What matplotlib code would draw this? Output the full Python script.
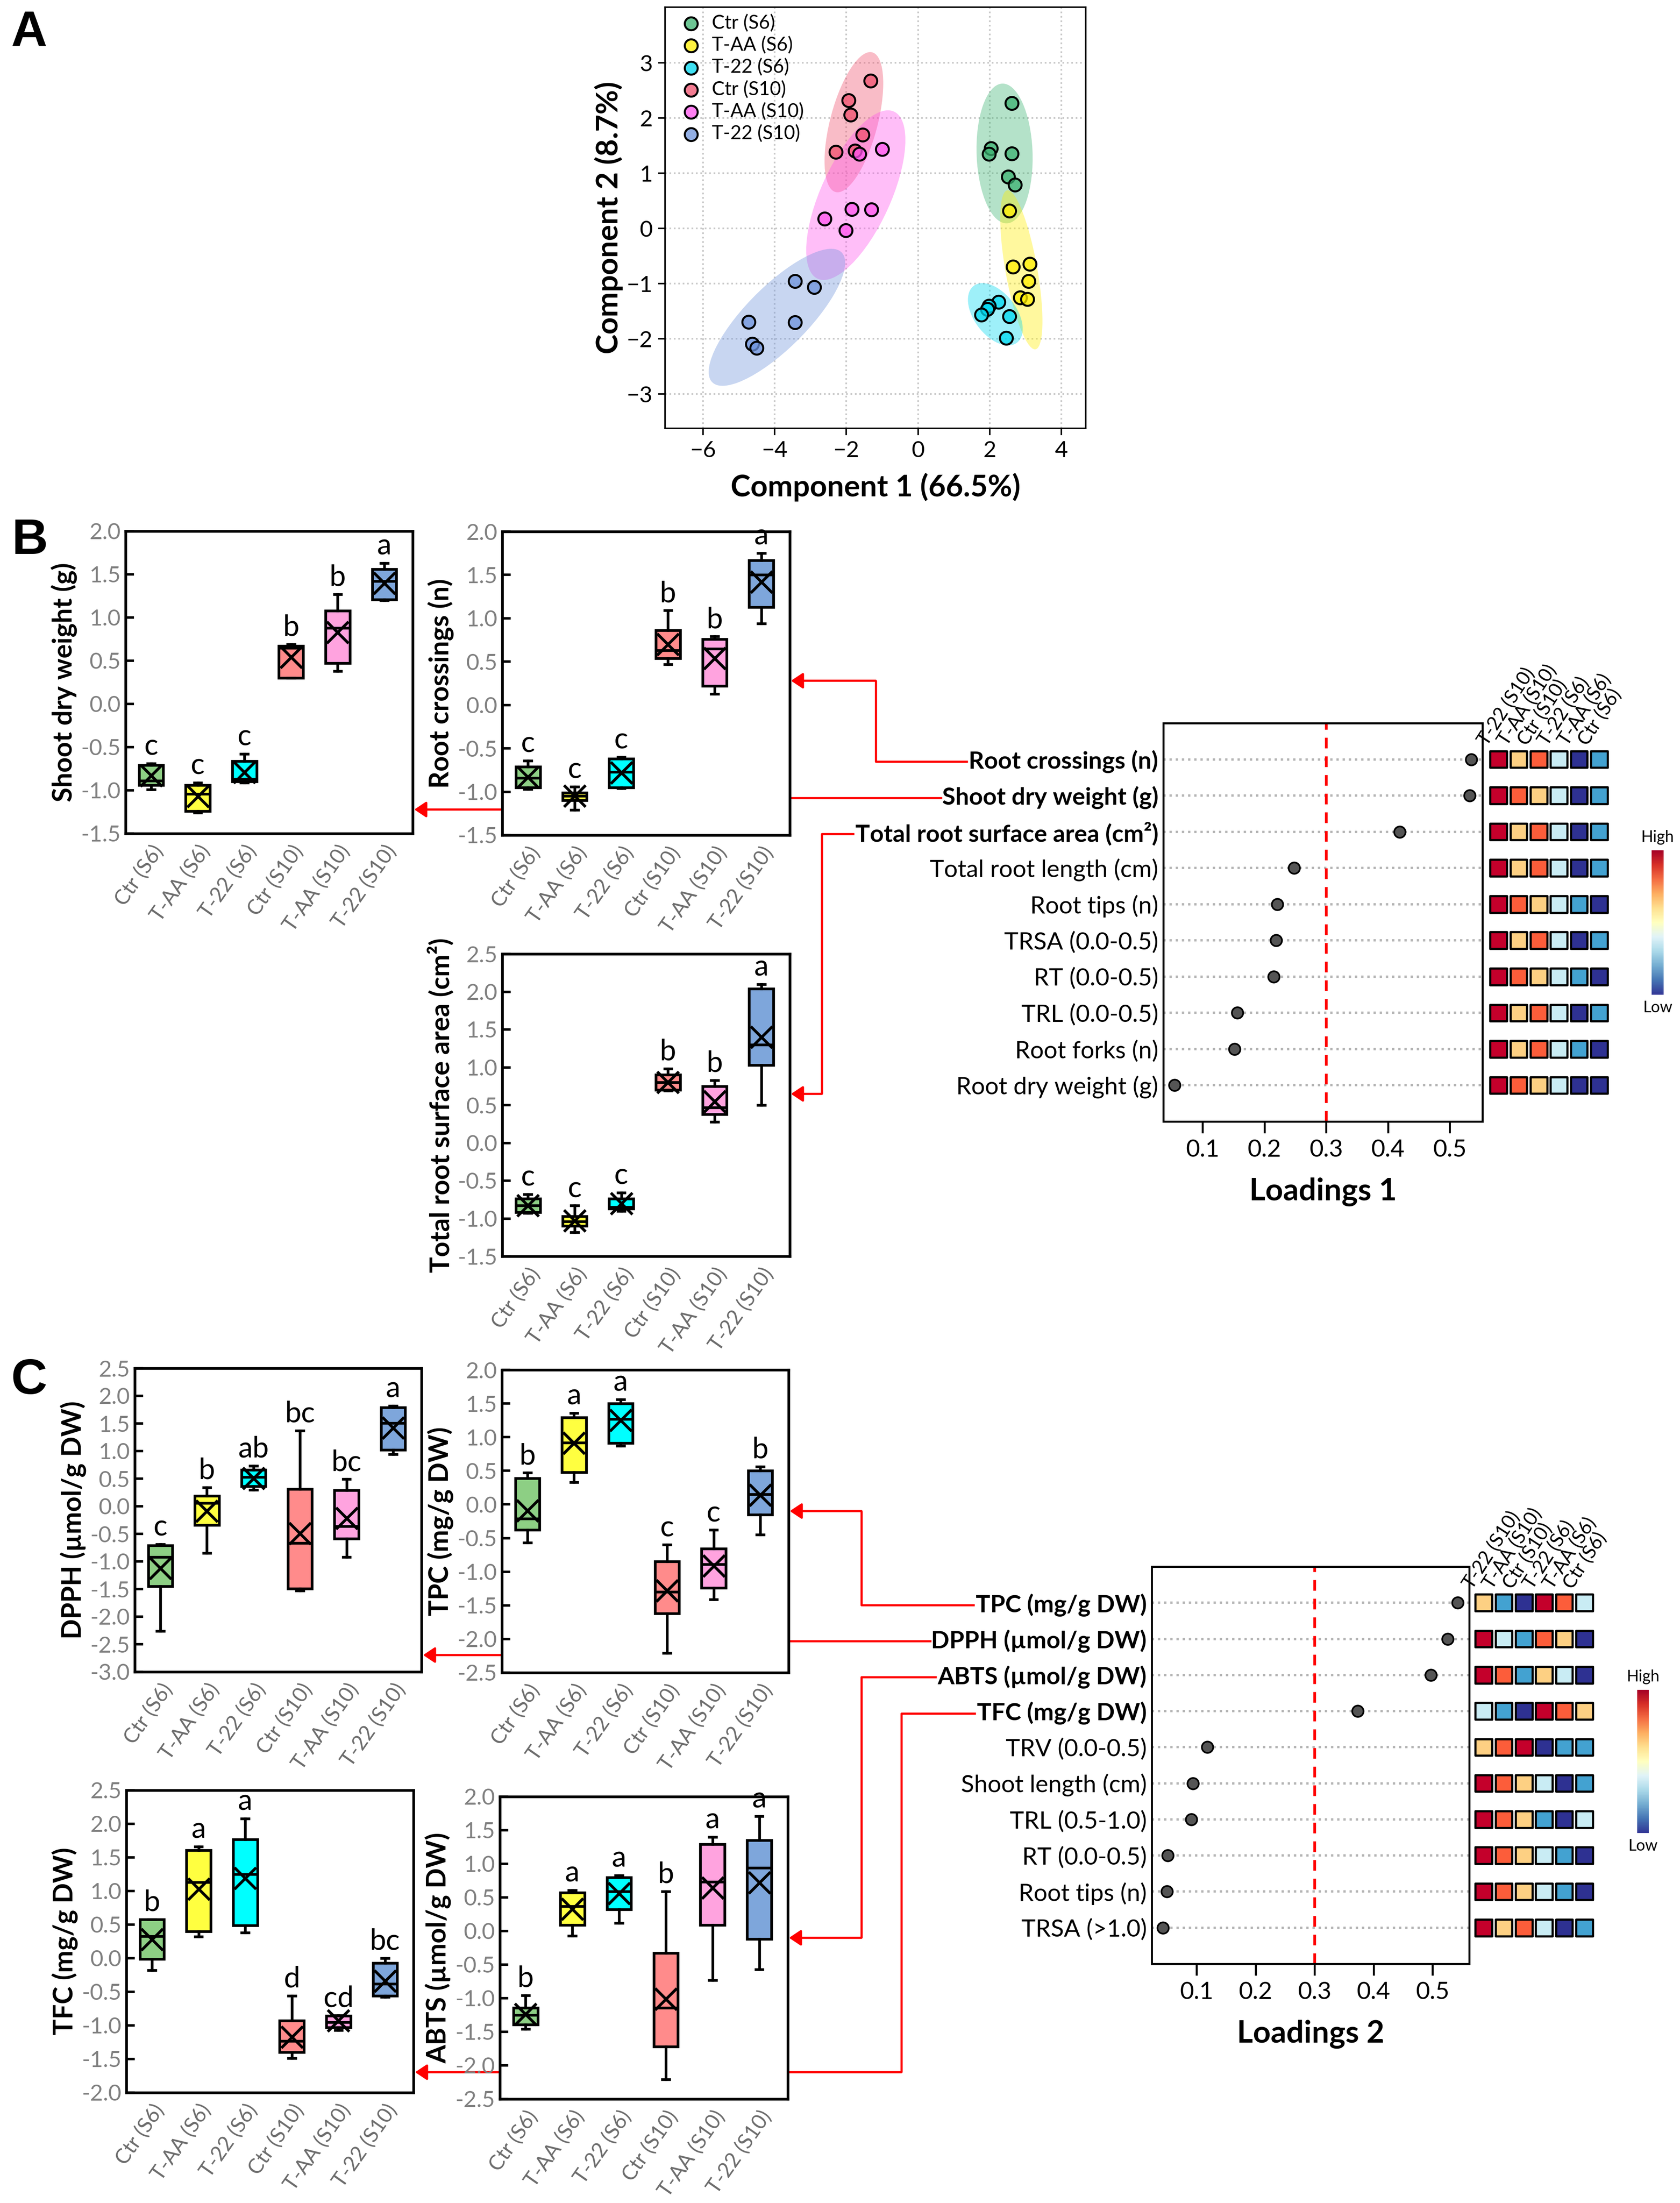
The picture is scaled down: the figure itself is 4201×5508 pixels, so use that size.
import numpy as np
import matplotlib
matplotlib.use("Agg")
import matplotlib.pyplot as plt
from matplotlib.patches import Ellipse
from matplotlib.colors import ListedColormap, to_rgba
from matplotlib.cm import ScalarMappable
from matplotlib.ticker import FormatStrFormatter, FuncFormatter

plt.rcParams['font.family'] = ['Lato', 'DejaVu Sans']
plt.rcParams['axes.unicode_minus'] = False

W, H = 4201, 5508

# ---- data: PCA scores ----
pca_groups = ['Ctr (S6)', 'T-AA (S6)', 'T-22 (S6)', 'Ctr (S10)', 'T-AA (S10)', 'T-22 (S10)']
pca_colors = ['#3cb371', '#ffee00', '#00d8f0', '#f0506e', '#ff55ee', '#6f94dc']
ctr_s6_x = [2.62, 2.04, 1.98, 2.62, 2.52, 2.71]
ctr_s6_y = [2.27, 1.45, 1.35, 1.36, 0.94, 0.79]
taa_s6_x = [2.55, 2.65, 3.12, 3.08, 2.85, 3.05]
taa_s6_y = [0.32, -0.69, -0.64, -0.95, -1.25, -1.28]
t22_s6_x = [2.25, 1.98, 1.93, 1.77, 2.55, 2.46]
t22_s6_y = [-1.33, -1.40, -1.46, -1.56, -1.59, -1.98]
ctr_s10_x = [-1.32, -1.94, -1.88, -1.55, -2.29, -1.76]
ctr_s10_y = [2.68, 2.32, 2.06, 1.70, 1.39, 1.41]
taa_s10_x = [-1.00, -1.64, -1.85, -1.30, -2.61, -2.02]
taa_s10_y = [1.44, 1.35, 0.35, 0.34, 0.18, -0.03]
t22_s10_x = [-3.43, -2.90, -4.73, -3.43, -4.63, -4.51]
t22_s10_y = [-0.95, -1.06, -1.69, -1.70, -2.09, -2.16]

# ---- data: box plots, each row = (whisker low, q1, median, q3, whisker high, mean) ----
groups = ['Ctr (S6)', 'T-AA (S6)', 'T-22 (S6)', 'Ctr (S10)', 'T-AA (S10)', 'T-22 (S10)']
box_colors = ['#8dcf84', '#ffff40', '#00ffff', '#ff8b8b', '#ffa3df', '#7ea6db']

shoot_dw = [(-0.99, -0.94, -0.89, -0.71, -0.69, -0.83),
            (-1.26, -1.24, -1.04, -0.94, -0.91, -1.07),
            (-0.91, -0.90, -0.87, -0.66, -0.58, -0.79),
            (0.30, 0.30, 0.65, 0.67, 0.69, 0.54),
            (0.38, 0.47, 0.88, 1.08, 1.27, 0.83),
            (1.20, 1.21, 1.42, 1.56, 1.63, 1.40)]
shoot_dw_let = ['c', 'c', 'c', 'b', 'b', 'a']

root_cross = [(-0.97, -0.95, -0.84, -0.71, -0.64, -0.83),
              (-1.21, -1.10, -1.05, -1.01, -0.94, -1.05),
              (-0.96, -0.95, -0.77, -0.62, -0.60, -0.78),
              (0.47, 0.54, 0.63, 0.86, 1.09, 0.70),
              (0.13, 0.22, 0.65, 0.76, 0.79, 0.54),
              (0.94, 1.13, 1.50, 1.67, 1.75, 1.42)]
root_cross_let = ['c', 'c', 'c', 'b', 'b', 'a']

trsa = [(-0.93, -0.92, -0.83, -0.74, -0.68, -0.83),
        (-1.18, -1.10, -1.04, -0.97, -0.83, -1.03),
        (-0.90, -0.87, -0.85, -0.74, -0.66, -0.80),
        (0.69, 0.70, 0.80, 0.90, 0.98, 0.80),
        (0.28, 0.38, 0.47, 0.75, 0.83, 0.55),
        (0.50, 1.03, 1.30, 2.04, 2.10, 1.40)]
trsa_let = ['c', 'c', 'c', 'b', 'b', 'a']

dpph = [(-2.26, -1.45, -0.92, -0.71, -0.69, -1.12),
        (-0.85, -0.34, 0.06, 0.19, 0.34, -0.09),
        (0.30, 0.36, 0.53, 0.66, 0.73, 0.51),
        (-1.53, -1.49, -0.67, 0.31, 1.37, -0.49),
        (-0.92, -0.59, -0.36, 0.29, 0.49, -0.22),
        (0.94, 1.02, 1.51, 1.79, 1.82, 1.42)]
dpph_let = ['c', 'b', 'ab', 'bc', 'bc', 'a']

tpc = [(-0.57, -0.38, -0.21, 0.39, 0.47, -0.09),
       (0.33, 0.48, 0.92, 1.29, 1.36, 0.91),
       (0.87, 0.91, 1.27, 1.50, 1.56, 1.25),
       (-2.21, -1.62, -1.30, -0.85, -0.60, -1.28),
       (-1.41, -1.24, -0.89, -0.66, -0.38, -0.91),
       (-0.45, -0.15, 0.15, 0.50, 0.56, 0.14)]
tpc_let = ['b', 'a', 'a', 'c', 'c', 'b']

tfc = [(-0.18, -0.01, 0.33, 0.58, 0.58, 0.28),
       (0.32, 0.40, 1.13, 1.61, 1.66, 1.03),
       (0.38, 0.49, 1.25, 1.77, 2.08, 1.19),
       (-1.49, -1.40, -1.23, -0.93, -0.56, -1.17),
       (-1.07, -1.03, -0.95, -0.86, -0.85, -0.93),
       (-0.58, -0.56, -0.38, -0.07, 0.00, -0.34)]
tfc_let = ['b', 'a', 'a', 'd', 'cd', 'bc']

abts = [(-1.46, -1.39, -1.25, -1.14, -0.96, -1.24),
        (-0.07, 0.09, 0.37, 0.57, 0.61, 0.33),
        (0.12, 0.32, 0.59, 0.80, 0.83, 0.56),
        (-2.21, -1.72, -1.14, -0.33, 0.59, -1.01),
        (-0.73, 0.09, 0.73, 1.29, 1.40, 0.64),
        (-0.57, -0.12, 0.94, 1.35, 1.71, 0.72)]
abts_let = ['b', 'a', 'a', 'b', 'a', 'a']

# ---- data: loadings + rank heatmaps (6 = high, 1 = low) ----
heat_cols = ['T-22 (S10)', 'T-AA (S10)', 'Ctr (S10)', 'T-22 (S6)', 'T-AA (S6)', 'Ctr (S6)']
heat_colors = ['#2e3192', '#43a2d1', '#c9ecf4', '#fdd083', '#fc5d3a', '#c4002b']

load1_names = ['Root crossings (n)', 'Shoot dry weight (g)', 'Total root surface area (cm²)',
               'Total root length (cm)', 'Root tips (n)', 'TRSA (0.0-0.5)', 'RT (0.0-0.5)',
               'TRL (0.0-0.5)', 'Root forks (n)', 'Root dry weight (g)']
load1_vals = [0.535, 0.532, 0.419, 0.248, 0.221, 0.219, 0.215, 0.156, 0.152, 0.055]
load1_ranks = [[6, 4, 5, 3, 1, 2], [6, 5, 4, 3, 1, 2], [6, 4, 5, 3, 1, 2], [6, 4, 5, 3, 1, 2],
               [6, 5, 4, 3, 2, 1], [6, 4, 5, 3, 1, 2], [6, 5, 4, 3, 2, 1], [6, 4, 5, 3, 1, 2],
               [6, 4, 5, 3, 2, 1], [6, 5, 4, 3, 1, 1]]

load2_names = ['TPC (mg/g DW)', 'DPPH (µmol/g DW)', 'ABTS (µmol/g DW)', 'TFC (mg/g DW)',
               'TRV (0.0-0.5)', 'Shoot length (cm)', 'TRL (0.5-1.0)', 'RT (0.0-0.5)',
               'Root tips (n)', 'TRSA (>1.0)']
load2_vals = [0.543, 0.526, 0.497, 0.373, 0.118, 0.094, 0.091, 0.051, 0.050, 0.043]
load2_ranks = [[4, 2, 1, 6, 5, 3], [6, 3, 2, 5, 4, 1], [6, 5, 2, 4, 3, 1], [3, 2, 1, 6, 5, 4],
               [4, 5, 6, 1, 2, 2], [6, 5, 4, 3, 1, 2], [6, 5, 4, 2, 1, 3], [6, 5, 4, 3, 2, 1],
               [6, 5, 4, 3, 2, 1], [6, 4, 5, 3, 1, 2]]


def rect(l, t, r, b):
    # pixel box (left, top, right, bottom) -> figure fraction
    return [l / W, 1 - b / H, (r - l) / W, (b - t) / H]


def conf_ellipse(ax, xs, ys, color):
    cov = np.cov(xs, ys)
    vals, vecs = np.linalg.eigh(cov)
    order = vals.argsort()[::-1]
    vals, vecs = vals[order], vecs[:, order]
    angle = np.degrees(np.arctan2(vecs[1, 0], vecs[0, 0]))
    k = np.sqrt(5.991)
    ax.add_patch(Ellipse((np.mean(xs), np.mean(ys)), 2 * k * np.sqrt(vals[0]), 2 * k * np.sqrt(vals[1]),
                         angle=angle, facecolor=color, alpha=0.38, lw=0, zorder=1))


def box_panel(ax, stats, letters, ylim, ylabel):
    bx = [dict(whislo=s[0], q1=s[1], med=s[2], q3=s[3], whishi=s[4], mean=s[5], fliers=[]) for s in stats]
    parts = ax.bxp(bx, positions=range(1, 7), widths=0.52, patch_artist=True, showmeans=True,
                   boxprops=dict(lw=1.6, edgecolor='k'),
                   medianprops=dict(color='k', lw=1.6),
                   whiskerprops=dict(color='k', lw=1.6),
                   capprops=dict(color='k', lw=1.6),
                   meanprops=dict(marker='x', markeredgecolor='k', markersize=13, markeredgewidth=1.7),
                   capwidths=0.15)
    for p, c in zip(parts['boxes'], box_colors):
        p.set_facecolor(c)
    for i, s in enumerate(stats):
        ax.annotate(letters[i], (i + 1, s[4]), xytext=(0, 2), textcoords='offset points',
                    ha='center', va='bottom', fontsize=17.5)
    ax.set_xlim(0.45, 6.61)
    ax.set_ylim(*ylim)
    ax.set_yticks(np.arange(ylim[0], ylim[1] + 0.01, 0.5))
    ax.yaxis.set_major_formatter(FormatStrFormatter('%.1f'))
    ax.tick_params(axis='y', direction='in', length=5, width=1.5, labelsize=13.5, labelcolor='#808080', pad=3)
    ax.set_xticks(range(1, 7))
    ax.set_xticklabels(groups, rotation=55, ha='right', rotation_mode='anchor')
    ax.tick_params(axis='x', length=0, labelsize=12.5, labelcolor='#6b6b6b', pad=5)
    for sp in ax.spines.values():
        sp.set_linewidth(1.6)
    ax.set_ylabel(ylabel, fontsize=16, fontweight='bold', labelpad=2)


heat_cmap = ListedColormap(heat_colors)


def loadings_panel(ax, hax, cax, names, vals, ranks, n_bold, xlim, xlabel):
    y = np.arange(len(names))
    ax.scatter(vals, y, s=46, color='#555555', edgecolor='k', lw=1.0, zorder=3)
    ax.axvline(0.3, color='red', ls=(0, (4, 3)), lw=1.6, zorder=2)
    ax.set_yticks(y)
    ax.set_yticklabels(names, fontsize=14.5)
    for lab in ax.get_yticklabels()[:n_bold]:
        lab.set_fontweight('bold')
    ax.set_ylim(len(names), -1.0)
    ax.grid(axis='y', ls=':', color='#b5b5b5', lw=1.4)
    ax.set_xlim(*xlim)
    ax.set_xticks([0.1, 0.2, 0.3, 0.4, 0.5])
    ax.tick_params(axis='y', length=0, pad=3)
    ax.tick_params(axis='x', direction='out', length=7, width=1.2, labelsize=14.5)
    for sp in ax.spines.values():
        sp.set_linewidth(1.2)
    ax.set_xlabel(xlabel, fontsize=18.5, fontweight='bold', labelpad=10)

    xx, yy = np.meshgrid(np.arange(6), y)
    hax.scatter(xx.ravel(), yy.ravel(), c=np.array(ranks).ravel(), cmap=heat_cmap, vmin=0.5, vmax=6.5,
                marker='s', s=100, edgecolor='k', lw=1.3)
    hax.set_xlim(-0.5, 5.5)
    hax.set_ylim(ax.get_ylim())
    hax.axis('off')
    for i, g in enumerate(heat_cols):
        hax.text(i - 0.45, -0.3, g, rotation=57, ha='left', va='bottom', rotation_mode='anchor', fontsize=11.5)

    cb = plt.colorbar(ScalarMappable(cmap='RdYlBu_r'), cax=cax)
    cb.set_ticks([])
    cb.outline.set_visible(False)
    cax.text(0.5, 1.04, 'High', transform=cax.transAxes, ha='center', va='bottom', fontsize=9.5)
    cax.text(0.5, -0.04, 'Low', transform=cax.transAxes, ha='center', va='top', fontsize=9.5)


fig = plt.figure(figsize=(W / 300, H / 300), dpi=300)

# ---- A: PCA score plot ----
ax = fig.add_axes(rect(1663, 18, 2715, 1071))
pca_x = [ctr_s6_x, taa_s6_x, t22_s6_x, ctr_s10_x, taa_s10_x, t22_s10_x]
pca_y = [ctr_s6_y, taa_s6_y, t22_s6_y, ctr_s10_y, taa_s10_y, t22_s10_y]
for name, xs, ys, c in zip(pca_groups, pca_x, pca_y, pca_colors):
    conf_ellipse(ax, xs, ys, c)
for name, xs, ys, c in zip(pca_groups, pca_x, pca_y, pca_colors):
    ax.scatter(xs, ys, s=60, facecolor=to_rgba(c, 0.75), edgecolor='k', lw=1.2, zorder=3, label=name)
ax.set_xlim(-7.06, 4.68)
ax.set_ylim(-3.62, 4.01)
ax.set_xticks([-6, -4, -2, 0, 2, 4])
ax.set_yticks([-3, -2, -1, 0, 1, 2, 3])
minus_fmt = FuncFormatter(lambda v, p: f'{v:g}'.replace('-', '\u2212'))
ax.xaxis.set_major_formatter(minus_fmt)
ax.yaxis.set_major_formatter(minus_fmt)
ax.grid(True, ls=':', color='#c8c8c8', lw=1.0, zorder=0)
ax.set_axisbelow(True)
ax.tick_params(length=4, width=0.9, labelsize=13.5)
for sp in ax.spines.values():
    sp.set_linewidth(0.9)
ax.set_xlabel('Component 1 (66.5%)', fontsize=18, fontweight='bold', labelpad=7)
ax.set_ylabel('Component 2 (8.7%)', fontsize=18, fontweight='bold', labelpad=2)
ax.legend(loc='upper left', frameon=False, fontsize=11.5, handletextpad=0.1, labelspacing=0.22,
          borderaxespad=0.05, borderpad=0.3, markerscale=1.0)

# ---- B: box plots ----
ax_sdw = fig.add_axes(rect(314, 1328, 1032, 2084))
box_panel(ax_sdw, shoot_dw, shoot_dw_let, (-1.5, 2.0), 'Shoot dry weight (g)')
ax_rc = fig.add_axes(rect(1256, 1329, 1975, 2088))
box_panel(ax_rc, root_cross, root_cross_let, (-1.5, 2.0), 'Root crossings (n)')
ax_ts = fig.add_axes(rect(1256, 2385, 1975, 3141))
box_panel(ax_ts, trsa, trsa_let, (-1.5, 2.5), 'Total root surface area (cm²)')

ax_l1 = fig.add_axes(rect(2909, 1808, 3707, 2804))
hax1 = fig.add_axes(rect(3722, 1808, 4024, 2804))
cax1 = fig.add_axes(rect(4130, 2126, 4160, 2487))
loadings_panel(ax_l1, hax1, cax1, load1_names, load1_vals, load1_ranks, 3, (0.0366, 0.553), 'Loadings 1')

# ---- C: box plots ----
ax_dp = fig.add_axes(rect(337, 3421, 1054, 4180))
box_panel(ax_dp, dpph, dpph_let, (-3.0, 2.5), 'DPPH (µmol/g DW)')
ax_tp = fig.add_axes(rect(1255, 3425, 1972, 4182))
box_panel(ax_tp, tpc, tpc_let, (-2.5, 2.0), 'TPC (mg/g DW)')
ax_tf = fig.add_axes(rect(316, 4476, 1034, 5232))
box_panel(ax_tf, tfc, tfc_let, (-2.0, 2.5), 'TFC (mg/g DW)')
ax_ab = fig.add_axes(rect(1250, 4492, 1970, 5248))
box_panel(ax_ab, abts, abts_let, (-2.5, 2.0), 'ABTS (µmol/g DW)')

ax_l2 = fig.add_axes(rect(2880, 3917, 3674, 4910))
hax2 = fig.add_axes(rect(3685, 3917, 3987, 4910))
cax2 = fig.add_axes(rect(4094, 4225, 4123, 4583))
loadings_panel(ax_l2, hax2, cax2, load2_names, load2_vals, load2_ranks, 4, (0.024, 0.5624), 'Loadings 2')

# ---- red connectors, drawn in pixel space behind the panels ----
fig.canvas.draw()


def label_left(ax, i):
    bb = ax.get_yticklabels()[i].get_window_extent()
    return bb.x0 - 3, H - (bb.y0 + bb.y1) / 2


ov = fig.add_axes([0, 0, 1, 1], zorder=-1)
ov.set_xlim(0, W)
ov.set_ylim(H, 0)
ov.axis('off')
arrow = dict(arrowstyle='-|>,head_length=0.6,head_width=0.4', color='red', lw=1.3,
             shrinkA=0, shrinkB=0, mutation_scale=10)


def connector(pts, head=True):
    xs, ys = zip(*pts)
    if head:
        ov.plot(xs[:-1], ys[:-1], color='red', lw=1.3, solid_capstyle='butt')
        ov.annotate('', xy=pts[-1], xytext=pts[-2], arrowprops=arrow)
    else:
        ov.plot(xs, ys, color='red', lw=1.3)


lx, ly = label_left(ax_l1, 0)
connector([(lx, ly), (2190, ly), (2190, 1702), (1978, 1702)])
lx, ly = label_left(ax_l1, 1)
connector([(lx, ly), (1900, ly)], head=False)
connector([(1400, 2024), (1036, 2024)])
lx, ly = label_left(ax_l1, 2)
connector([(lx, ly), (2055, ly), (2055, 2735), (1978, 2735)])

lx, ly = label_left(ax_l2, 0)
connector([(lx, ly), (2154, ly), (2154, 3778), (1975, 3778)])
lx, ly = label_left(ax_l2, 1)
connector([(lx, ly), (1900, ly)], head=False)
connector([(1400, 4138), (1058, 4138)])
lx, ly = label_left(ax_l2, 2)
connector([(lx, ly), (2154, ly), (2154, 4845), (1973, 4845)])
lx, ly = label_left(ax_l2, 3)
connector([(lx, ly), (2254, ly), (2254, 5181), (1038, 5181)])

# panel letters
for letter, x, y in [('A', 28, 25), ('B', 30, 1295), ('C', 28, 3395)]:
    ov.text(x, y, letter, fontsize=30, fontweight='bold', family=['Liberation Sans', 'DejaVu Sans'],
            ha='left', va='top')

fig.savefig('out.png', dpi=300)
